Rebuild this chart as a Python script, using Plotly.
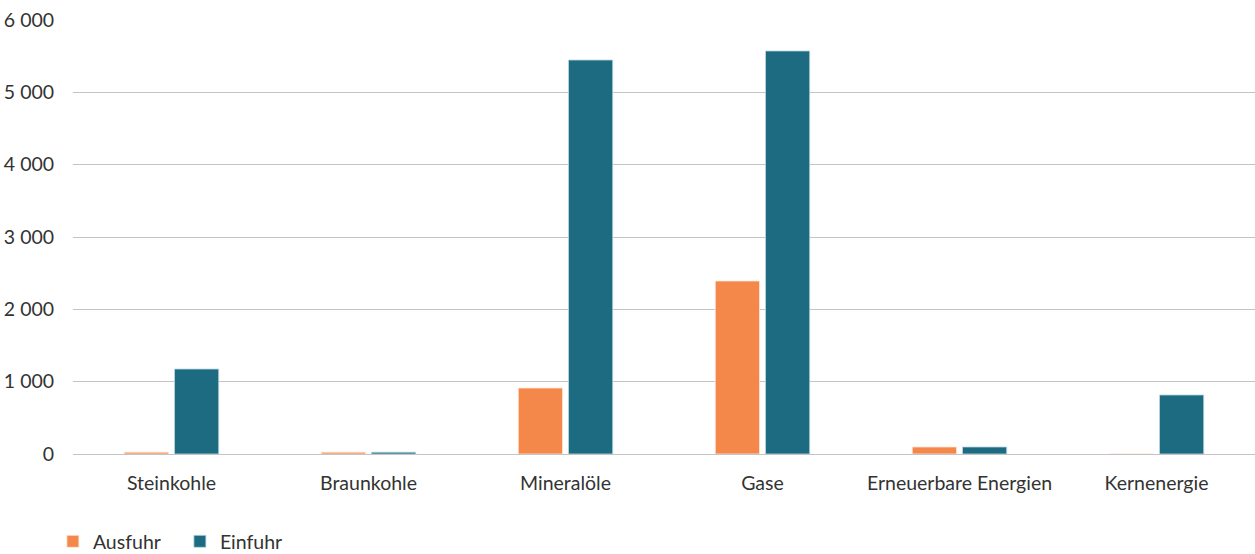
import plotly.graph_objects as go

# Energy trade by carrier
categories = ["Steinkohle", "Braunkohle", "Mineralöle", "Gase",
              "Erneuerbare Energien", "Kernenergie"]
ausfuhr = [25, 25, 912, 2392, 97, 0]
einfuhr = [1175, 25, 5447, 5572, 97, 816]
y_ticks = [0, 1000, 2000, 3000, 4000, 5000, 6000]

ORANGE = "#F4884A"
TEAL = "#1D6B80"
FONT = "Lato, 'Open Sans', sans-serif"
FSIZE = 19.5
TXT = "#333333"

fig = go.Figure()
fig.add_trace(go.Bar(
    name="Ausfuhr", x=categories, y=ausfuhr,
    marker=dict(color=ORANGE, line=dict(color="rgba(255,230,215,0.8)", width=1)),
))
fig.add_trace(go.Bar(
    name="Einfuhr", x=categories, y=einfuhr,
    marker=dict(color=TEAL, line=dict(color="rgba(190,215,225,0.8)", width=1)),
))

fig.update_layout(
    width=1255, height=554,
    margin=dict(l=73, r=0, t=20, b=100, autoexpand=False),
    paper_bgcolor="white", plot_bgcolor="white",
    barmode="group", bargap=0.49, bargroupgap=0.12,
    separators=", ",
    font=dict(family=FONT, size=FSIZE, color=TXT),
    showlegend=True,
    legend=dict(
        orientation="h", x=-0.017, xanchor="left",
        y=-0.157, yanchor="top",
        entrywidth=82, entrywidthmode="pixels",
        font=dict(family=FONT, size=FSIZE, color=TXT),
        traceorder="normal",
    ),
)
fig.update_xaxes(
    showgrid=False, showline=False, automargin=False,
    ticks="outside", ticklen=12, tickcolor="rgba(0,0,0,0)",
    tickfont=dict(family=FONT, size=FSIZE, color=TXT),
)
fig.update_yaxes(
    range=[0, 6000], tickvals=y_ticks, tickformat=",d", automargin=False,
    showgrid=True, gridcolor="#C4C4C4", gridwidth=1,
    zeroline=True, zerolinecolor="#C4C4C4", zerolinewidth=1,
    showline=False, ticks="outside", ticklen=14, tickcolor="rgba(0,0,0,0)",
    tickfont=dict(family=FONT, size=FSIZE, color=TXT),
)

fig.write_html("out.html")
